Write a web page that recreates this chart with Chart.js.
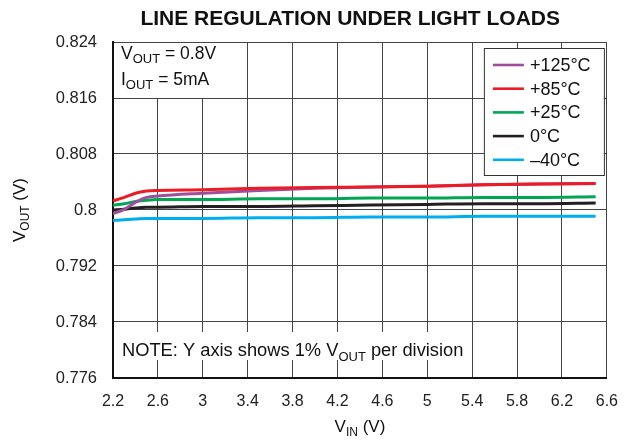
<!DOCTYPE html>
<html>
<head>
<meta charset="utf-8">
<script src="https://cdn.jsdelivr.net/npm/chart.js@4"></script>
<style>
  html, body { margin: 0; padding: 0; background: #fff; }
  #wrap { width: 632px; height: 441px; }
</style>
</head>
<body>
<div id="wrap"><canvas id="chart" width="632" height="441"></canvas></div>
<script>
// input voltage (V)
const vin = [2.2, 2.3, 2.4, 2.5, 2.6, 3.0, 3.5, 4.0, 4.5, 5.0, 5.5, 6.0, 6.5];

// output voltage per temperature (V)
const vout125 = [0.7995, 0.8001, 0.8011, 0.8018, 0.8020, 0.8024, 0.8028, 0.8031, 0.8033, 0.8034, 0.8036, 0.8037, 0.8038];
const vout85  = [0.8013, 0.8018, 0.8024, 0.8027, 0.8028, 0.8029, 0.8031, 0.8032, 0.8033, 0.8034, 0.8036, 0.8037, 0.8038];
const vout25  = [0.8007, 0.8009, 0.8012, 0.8014, 0.8015, 0.8015, 0.8016, 0.8016, 0.8017, 0.8017, 0.8018, 0.8018, 0.8019];
const vout0   = [0.8000, 0.8001, 0.8003, 0.8004, 0.8004, 0.8005, 0.8005, 0.8006, 0.8007, 0.8008, 0.8009, 0.8009, 0.8010];
const voutM40 = [0.7985, 0.7986, 0.7987, 0.7988, 0.7988, 0.7988, 0.7989, 0.7989, 0.7990, 0.7990, 0.7991, 0.7991, 0.7991];

const seriesLabels = ["+125°C", "+85°C", "+25°C", "0°C", "\u201340°C"];
const seriesColors = ["#9e4f9c", "#ed1c24", "#00a651", "#231f20", "#00aeef"];

const xTicks = [2.2, 2.6, 3.0, 3.4, 3.8, 4.2, 4.6, 5.0, 5.4, 5.8, 6.2, 6.6];
const yTicks = [0.776, 0.784, 0.792, 0.8, 0.808, 0.816, 0.824];

const FONT = "'Liberation Sans', Arial, sans-serif";

function toPoints(ys) {
  return vin.map((x, i) => ({ x: x, y: ys[i] }));
}

// text with a subscript part: parts = [[text, isSub], ...]
function drawSubText(ctx, parts, x, y, size, align) {
  const subSize = Math.round(size * 0.72);
  let total = 0;
  parts.forEach(p => {
    ctx.font = (p[1] ? subSize : size) + "px " + FONT;
    total += ctx.measureText(p[0]).width;
  });
  let cx = align === "center" ? x - total / 2 : x;
  ctx.textAlign = "left";
  ctx.textBaseline = "alphabetic";
  parts.forEach(p => {
    ctx.font = (p[1] ? subSize : size) + "px " + FONT;
    ctx.fillText(p[0], cx, p[1] ? y + size * 0.25 : y);
    cx += ctx.measureText(p[0]).width;
  });
}

const annotations = {
  id: "annotations",
  beforeDatasetsDraw(chart) {
    const ctx = chart.ctx;
    const a = chart.chartArea;
    ctx.save();
    // white boxes behind the notes
    ctx.fillStyle = "#fff";
    ctx.fillRect(a.left + 1, a.top + 1, 127, 55);
    ctx.fillRect(a.left + 1, a.bottom - 46, 357, 28);
    ctx.fillStyle = "#111";
    drawSubText(ctx, [["V", false], ["OUT", true], [" = 0.8V", false]], a.left + 8, a.top + 17, 17.5);
    drawSubText(ctx, [["I", false], ["OUT", true], [" = 5mA", false]], a.left + 8, a.top + 43, 17.5);
    drawSubText(ctx, [["NOTE: Y axis shows 1% V", false], ["OUT", true], [" per division", false]], a.left + 9, a.bottom - 22, 18.3);
    ctx.restore();
  },
  afterDatasetsDraw(chart) {
    const ctx = chart.ctx;
    const a = chart.chartArea;
    ctx.save();
    // legend box
    const bx = a.right - 123, by = a.top + 6, bw = 120, bh = 127;
    ctx.fillStyle = "#fff";
    ctx.fillRect(bx, by, bw, bh);
    ctx.strokeStyle = "#333";
    ctx.lineWidth = 1;
    ctx.strokeRect(bx + 0.5, by + 0.5, bw, bh);
    seriesLabels.forEach((lab, i) => {
      const ry = by + 17 + i * 23.7;
      ctx.strokeStyle = seriesColors[i];
      ctx.lineWidth = 2.6;
      ctx.beginPath();
      ctx.moveTo(bx + 9, ry);
      ctx.lineTo(bx + 40, ry);
      ctx.stroke();
      ctx.fillStyle = "#111";
      ctx.font = "18px " + FONT;
      ctx.textAlign = "left";
      ctx.textBaseline = "middle";
      ctx.fillText(lab, bx + 46, ry + 1);
    });
    ctx.restore();
  },
  afterDraw(chart) {
    const ctx = chart.ctx;
    const a = chart.chartArea;
    ctx.save();
    ctx.fillStyle = "#111";
    ctx.font = "bold 21px " + FONT;
    ctx.textAlign = "right";
    ctx.textBaseline = "alphabetic";
    ctx.fillText("LINE REGULATION UNDER LIGHT LOADS", 560, 25);
    // x axis title
    drawSubText(ctx, [["V", false], ["IN", true], [" (V)", false]], (a.left + a.right) / 2, 432, 17, "center");
    // y axis title
    ctx.translate(25, (a.top + a.bottom) / 2);
    ctx.rotate(-Math.PI / 2);
    drawSubText(ctx, [["V", false], ["OUT", true], [" (V)", false]], 0, 0, 17, "center");
    ctx.restore();
  }
};

const datasets = [vout125, vout85, vout25, vout0, voutM40].map((ys, i) => ({
  label: seriesLabels[i],
  data: toPoints(ys),
  borderColor: seriesColors[i],
  backgroundColor: seriesColors[i],
  borderWidth: 3,
  pointRadius: 0,
  cubicInterpolationMode: "monotone",
  order: i === 0 ? 1 : (i === 1 ? 0 : i)
}));

new Chart(document.getElementById("chart"), {
  type: "line",
  data: { datasets: datasets },
  options: {
    responsive: false,
    animation: false,
    layout: { padding: { top: 42, right: 22, left: 0, bottom: 0 } },
    plugins: {
      legend: { display: false },
      title: { display: false },
      tooltip: { enabled: false }
    },
    scales: {
      x: {
        type: "linear",
        min: 2.2,
        max: 6.6,
        afterBuildTicks: s => { s.ticks = xTicks.map(v => ({ value: v })); },
        afterFit: s => { s.height = 63; },
        ticks: {
          autoSkip: false,
          maxRotation: 0,
          padding: 14,
          color: "#222",
          font: { family: FONT, size: 16 },
          callback: v => String(+v.toFixed(1))
        },
        grid: { color: "#444", lineWidth: 1, drawTicks: false },
        border: { color: "#111", width: 2 }
      },
      y: {
        type: "linear",
        min: 0.776,
        max: 0.824,
        afterBuildTicks: s => { s.ticks = yTicks.map(v => ({ value: v })); },
        afterFit: s => { s.width = 113; },
        ticks: {
          autoSkip: false,
          padding: 16,
          color: "#222",
          font: { family: FONT, size: 16.5 },
          callback: v => String(+v.toFixed(3))
        },
        grid: { color: "#444", lineWidth: 1, drawTicks: false },
        border: { color: "#111", width: 2 }
      }
    }
  },
  plugins: [annotations]
});
</script>
</body>
</html>
